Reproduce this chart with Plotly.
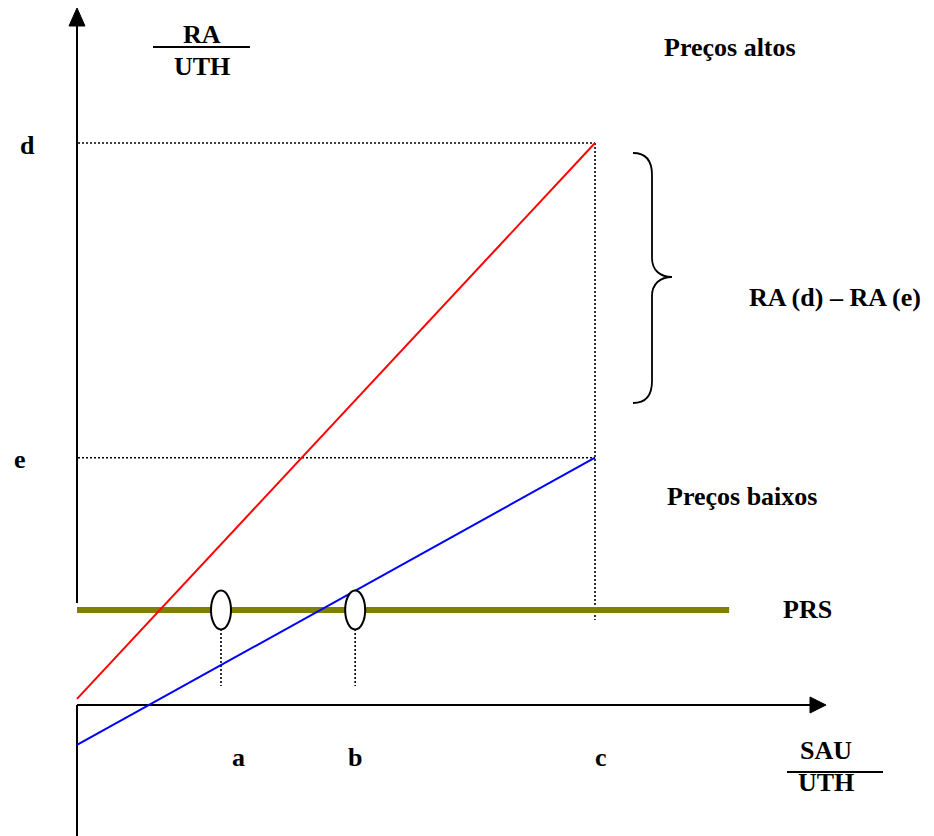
import plotly.graph_objects as go

# ---- data (conceptual units: SAU/UTH on x, RA/UTH on y) ----
x_labels = ["a", "b", "c"]
x_values = [2.78, 5.37, 10.0]          # a, b, c
y_labels = ["d", "e"]
y_values = [10.0, 4.40]                # d, e
prs_level = [1.69]                     # PRS
red_line_x = [0.0, 10.0]               # Preços altos
red_line_y = [0.11, 10.0]
blue_line_x = [0.0, 10.0]              # Preços baixos
blue_line_y = [-0.71, 4.40]
prs_x = [0.0, 12.59]

# ---- layout helpers (pixel <-> data), origin of axes at pixel (77,705) ----
OX, OY = 77.0, 705.0
KX, KY = 51.8, 56.2
W, H = 934, 836

def X(px):
    return (px - OX) / KX

def Y(py):
    return (OY - py) / KY

def PX(x):
    return OX + x * KX

def PY(y):
    return OY - y * KY

FONT = dict(family="Liberation Serif, Times New Roman, serif", size=26, color="black")

fig = go.Figure()

# dotted guides
d_val, e_val = y_values
c_val = x_values[2]
dot = dict(color="black", width=1.6, dash="2px,2px")
for yv in y_values:
    fig.add_trace(go.Scatter(x=[X(OX + 1), c_val], y=[yv, yv], mode="lines", line=dot, hoverinfo="skip"))
fig.add_trace(go.Scatter(x=[c_val, c_val], y=[d_val, Y(620)], mode="lines", line=dot, hoverinfo="skip"))
for xv in x_values[:2]:
    fig.add_trace(go.Scatter(x=[xv, xv], y=[Y(629), Y(686)], mode="lines", line=dot, hoverinfo="skip"))

# axes (drawn)
axis = dict(color="black", width=2)
fig.add_trace(go.Scatter(x=[0, 0], y=[Y(603), Y(24)], mode="lines", line=axis, hoverinfo="skip"))
fig.add_trace(go.Scatter(x=[0, 0], y=[0, Y(H + 5)], mode="lines", line=axis, hoverinfo="skip"))
fig.add_trace(go.Scatter(x=[0, X(812)], y=[0, 0], mode="lines", line=axis, hoverinfo="skip"))
# arrowheads
fig.add_trace(go.Scatter(x=[X(69), X(77), X(85), X(69)], y=[Y(26), Y(8), Y(26), Y(26)],
                         mode="lines", fill="toself", fillcolor="black",
                         line=dict(color="black", width=1), hoverinfo="skip"))
fig.add_trace(go.Scatter(x=[X(810), X(826), X(810), X(810)], y=[Y(697), Y(705), Y(713), Y(697)],
                         mode="lines", fill="toself", fillcolor="black",
                         line=dict(color="black", width=1), hoverinfo="skip"))

# PRS line
fig.add_trace(go.Scatter(x=prs_x, y=[prs_level[0]] * 2, mode="lines",
                         line=dict(color="#808000", width=6), hoverinfo="skip"))
# price lines
fig.add_trace(go.Scatter(x=red_line_x, y=red_line_y, mode="lines",
                         line=dict(color="#ff0000", width=2), hoverinfo="skip"))
fig.add_trace(go.Scatter(x=blue_line_x, y=blue_line_y, mode="lines",
                         line=dict(color="#0000ff", width=2), hoverinfo="skip"))

shapes = []
# ellipses at a and b
ew, eh = 10 / KX, 19.5 / KY
for xv in x_values[:2]:
    shapes.append(dict(type="circle", xref="x", yref="y",
                       x0=xv - ew, x1=xv + ew, y0=prs_level[0] - eh, y1=prs_level[0] + eh,
                       fillcolor="white", line=dict(color="black", width=2), layer="above"))

# fraction bars
shapes.append(dict(type="line", xref="x", yref="y", x0=X(153), x1=X(250), y0=Y(47), y1=Y(47),
                   line=dict(color="black", width=2)))
shapes.append(dict(type="line", xref="x", yref="y", x0=X(787), x1=X(883), y0=Y(772), y1=Y(772),
                   line=dict(color="black", width=2)))

# curly brace between d and e
def P(px, py):
    return f"{X(px):.4f},{Y(py):.4f}"

brace = (f"M {P(633,153)} C {P(645,153)} {P(652,160)} {P(652,175)} "
         f"L {P(652,258)} C {P(652,270)} {P(660,277)} {P(672,277)} "
         f"C {P(660,277)} {P(652,284)} {P(652,296)} "
         f"L {P(652,381)} C {P(652,396)} {P(645,403)} {P(633,403)}")
shapes.append(dict(type="path", xref="x", yref="y", path=brace,
                   line=dict(color="black", width=1.8)))

annotations = []
def txt(t, px, py, xanchor="center"):
    annotations.append(dict(text=f"<b>{t}</b>", x=X(px), y=Y(py), xref="x", yref="y",
                            showarrow=False, font=FONT, xanchor=xanchor, yanchor="middle"))

txt("RA", 202, 34)
txt("UTH", 202, 66)
txt("Preços altos", 730, 47)
for lab, yv in zip(y_labels, y_values):
    txt(lab, 27 if lab == "d" else 20, PY(yv) + 2)
for lab, xv in zip(x_labels, x_values):
    txt(lab, PX(xv) + (17 if lab == "a" else 0) + (6 if lab == "c" else 0), 757)
txt("RA (d) – RA (e)", 835, 297)
txt("Preços baixos", 742, 496)
txt("PRS", 807, 609)
txt("SAU", 826, 750)
txt("UTH", 826, 782)

fig.update_layout(
    width=W, height=H, margin=dict(l=0, r=0, t=0, b=0),
    paper_bgcolor="white", plot_bgcolor="white", showlegend=False,
    xaxis=dict(range=[X(0), X(W)], visible=False, fixedrange=True),
    yaxis=dict(range=[Y(H), Y(0)], visible=False, fixedrange=True),
    shapes=shapes, annotations=annotations,
)

fig.write_html("out.html", config={"displayModeBar": False},
               post_script="document.body.style.margin='0';document.body.style.overflow='hidden';")
